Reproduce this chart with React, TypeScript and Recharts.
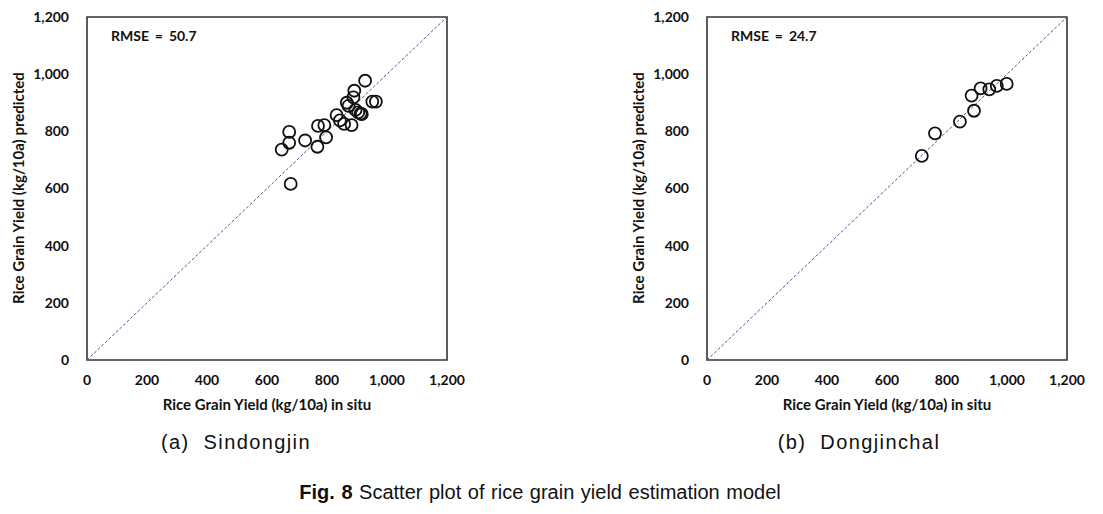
import React from "react";
import {
  ScatterChart,
  Scatter,
  XAxis,
  YAxis,
  ReferenceLine,
  ReferenceArea,
} from "recharts";

// (a) Sindongjin: in situ vs predicted (kg/10a)
const sindongjinInSitu = [
  927, 891, 888, 866, 872, 951, 963, 832, 843, 857, 882, 895, 904, 912, 916,
  770, 791, 797, 768, 727, 674, 674, 649, 679,
];
const sindongjinPredicted = [
  977, 942, 919, 900, 889, 904, 904, 857, 838, 826, 822, 875, 866, 862, 860,
  819, 822, 779, 746, 768, 798, 760, 736, 616,
];

// (b) Dongjinchal
const dongjinchalInSitu = [716, 760, 843, 890, 882, 912, 941, 966, 999];
const dongjinchalPredicted = [714, 793, 834, 872, 925, 950, 947, 959, 966];

const axisTicks = [0, 200, 400, 600, 800, 1000, 1200];
const oneToOne = [0, 1200];

const panels = [
  { label: "(a)  Sindongjin", rmse: "RMSE = 50.7", xs: sindongjinInSitu, ys: sindongjinPredicted },
  { label: "(b)  Dongjinchal", rmse: "RMSE = 24.7", xs: dongjinchalInSitu, ys: dongjinchalPredicted },
];

const axisFont = "Lato, 'Open Sans', sans-serif";
const captionFont = "'Liberation Sans', Arial, sans-serif";

const fmt = (v: number) => v.toLocaleString("en-US");

const OpenCircle = (props: any) => {
  const { cx, cy } = props;
  return <circle cx={cx} cy={cy} r={6} fill="none" stroke="#111" strokeWidth={1.8} />;
};

function Panel({ left, panel }: { left: number; panel: (typeof panels)[number] }) {
  const data = panel.xs.map((x, i) => ({ x, y: panel.ys[i] }));
  const tickStyle = { fontFamily: axisFont, fontSize: 14, fontWeight: 700, fill: "#111" };
  const titleStyle: React.CSSProperties = {
    position: "absolute",
    fontFamily: axisFont,
    fontWeight: 700,
    fontSize: 15,
    color: "#111",
    whiteSpace: "nowrap",
  };
  return (
    <div style={{ position: "absolute", left, top: 0, width: 480, height: 420 }}>
      <ScatterChart width={480} height={400} margin={{ top: 17, right: 33, bottom: 10, left: 30 }}>
        <XAxis
          type="number"
          dataKey="x"
          domain={[0, 1200]}
          ticks={axisTicks}
          tickFormatter={fmt}
          axisLine={false}
          tickLine={false}
          tickSize={0}
          tickMargin={15}
          height={30}
          tick={tickStyle}
          interval={0}
        />
        <YAxis
          type="number"
          dataKey="y"
          domain={[0, 1200]}
          ticks={axisTicks}
          tickFormatter={fmt}
          axisLine={false}
          tickLine={false}
          tickSize={0}
          tickMargin={18}
          width={57}
          tick={tickStyle}
          interval={0}
        />
        <ReferenceArea
          x1={0}
          x2={1200}
          y1={0}
          y2={1200}
          fill="none"
          stroke="#333"
          strokeWidth={1.6}
          fillOpacity={0}
        />
        <ReferenceLine
          segment={[
            { x: oneToOne[0], y: oneToOne[0] },
            { x: oneToOne[1], y: oneToOne[1] },
          ]}
          stroke="#4b5a96"
          strokeWidth={1}
          strokeDasharray="3 2"
        />
        <Scatter data={data} shape={OpenCircle} isAnimationActive={false} />
      </ScatterChart>
      <div style={{ ...titleStyle, left: 111, top: 27, fontSize: 14, wordSpacing: 2.5 }}>
        {panel.rmse}
      </div>
      <div style={{ ...titleStyle, left: 18, top: 188, transform: "translate(-50%, -50%) rotate(-90deg)" }}>
        Rice Grain Yield (kg/10a) predicted
      </div>
      <div style={{ ...titleStyle, left: 267, top: 404, transform: "translate(-50%, -50%)" }}>
        Rice Grain Yield (kg/10a) in situ
      </div>
    </div>
  );
}

export default function App() {
  const subStyle: React.CSSProperties = {
    position: "absolute",
    top: 442,
    transform: "translate(-50%, -50%)",
    fontFamily: captionFont,
    fontSize: 20,
    letterSpacing: 1.4,
    color: "#111",
    whiteSpace: "pre",
  };
  return (
    <div
      style={{
        position: "absolute",
        left: 0,
        top: 0,
        width: 1103,
        height: 514,
        background: "#fff",
        overflow: "hidden",
      }}
    >
      <Panel left={0} panel={panels[0]} />
      <Panel left={620} panel={panels[1]} />
      <div style={{ ...subStyle, left: 236 }}>{panels[0].label}</div>
      <div style={{ ...subStyle, left: 859 }}>{panels[1].label}</div>
      <div
        style={{
          position: "absolute",
          left: 540,
          top: 492,
          transform: "translate(-50%, -50%)",
          fontFamily: captionFont,
          fontSize: 20,
          wordSpacing: 1,
          color: "#111",
          whiteSpace: "pre",
        }}
      >
        <span style={{ fontWeight: 700 }}>Fig. 8</span> Scatter plot of rice grain yield estimation model
      </div>
    </div>
  );
}
